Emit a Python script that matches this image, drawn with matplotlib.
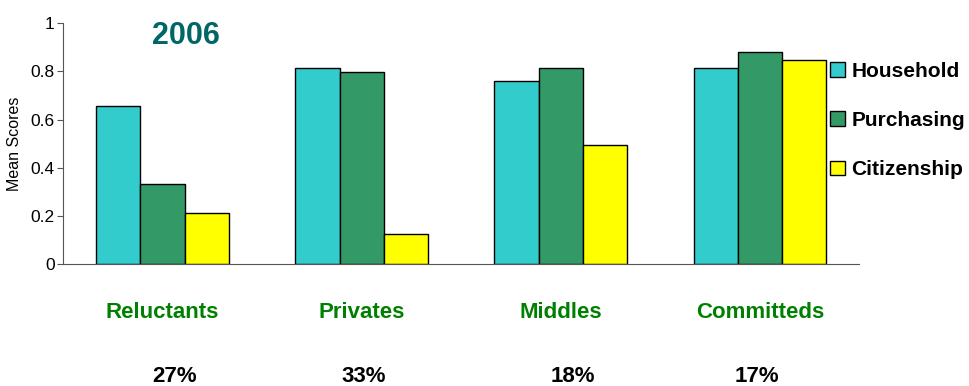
import numpy as np
import matplotlib.pyplot as plt
from matplotlib.patches import Patch

categories = ["Reluctants", "Privates", "Middles", "Committeds"]
shares = ["27%", "33%", "18%", "17%"]
series = ["Household", "Purchasing", "Citizenship"]
household = [0.656, 0.813, 0.76, 0.813]
purchasing = [0.332, 0.797, 0.813, 0.88]
citizenship = [0.21, 0.125, 0.494, 0.846]
colors = ["#33CCCC", "#339966", "#FFFF00"]

plt.rcParams['font.family'] = ['Liberation Sans Narrow', 'Liberation Sans', 'DejaVu Sans']

fig = plt.figure(figsize=(9.7, 3.86), dpi=100)
ax = fig.add_axes([0.065, 0.316, 0.821, 0.624])

x = np.arange(len(categories))
w = 0.222
for i, vals in enumerate([household, purchasing, citizenship]):
    ax.bar(x + (i - 1) * w, vals, w, color=colors[i], edgecolor="black", linewidth=1.0)

ax.set_xlim(-0.5, len(categories) - 0.5)
ax.set_ylim(0, 1)
ax.set_yticks([0, 0.2, 0.4, 0.6, 0.8, 1])
ax.set_yticklabels(["0", "0.2", "0.4", "0.6", "0.8", "1"], fontsize=12.5)
ax.set_xticks([])
ax.tick_params(axis="y", length=4, color="#555555", pad=2)
for s in ["top", "right"]:
    ax.spines[s].set_visible(False)
ax.spines["left"].set_color("#555555")
ax.spines["bottom"].set_color("#555555")
ax.set_ylabel("Mean Scores", fontsize=11.5, labelpad=6)

# category names and shares below the axis (shares sit slightly off-centre in the original)
pct_shift = [0.058, 0.008, 0.063, -0.013]
for xi, name, pct, dx in zip(x, categories, shares, pct_shift):
    ax.text(xi, -0.2, name, ha="center", va="center", fontsize=16, fontweight="bold",
            color="#008000", clip_on=False)
    ax.text(xi + dx, -0.465, pct, ha="center", va="center", fontsize=16, fontweight="bold",
            color="black", clip_on=False)

fig.text(0.192, 0.907, "2006", ha="center", va="center", fontsize=22, fontweight="bold",
         color="#006666")

handles = [Patch(facecolor=c, edgecolor="black") for c in colors]
fig.legend(handles, series, loc="upper left", bbox_to_anchor=(0.856, 0.84), frameon=False,
           prop={"size": 15, "weight": "bold"}, handlelength=0.7, handleheight=0.7,
           handletextpad=0.3, labelspacing=1.45, borderaxespad=0, borderpad=0)

plt.savefig("out.png", dpi=100)
